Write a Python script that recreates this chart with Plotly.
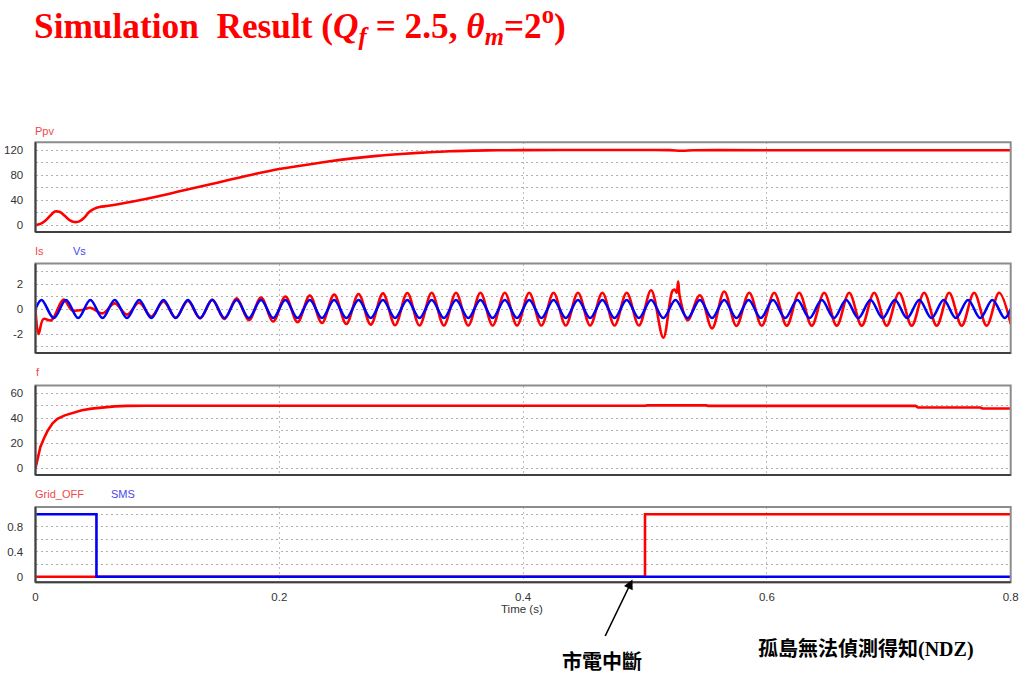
import plotly.graph_objects as go

# ---------------- data ----------------
ppv_t = [0, 0.004, 0.008, 0.012, 0.016, 0.02, 0.024, 0.028, 0.032, 0.036, 0.04, 0.044, 0.048, 0.0525,
         0.06, 0.08, 0.1, 0.12, 0.14, 0.16, 0.18, 0.2, 0.22, 0.24, 0.26, 0.28, 0.3, 0.32, 0.34, 0.36,
         0.38, 0.4, 0.45, 0.5, 0.52, 0.53, 0.54, 0.56, 0.6, 0.7, 0.8]
ppv_v = [0, 2, 7, 15, 22, 21, 15, 8, 5, 6, 12, 21, 26, 29,
         31, 38, 46, 55, 64, 73, 82, 90, 96, 102, 107, 111, 114, 116.5, 118.5, 119.5,
         120, 120.3, 120.5, 120.5, 120.3, 119.3, 120, 120.3, 120, 120, 120]

is_t = [0, 0.0025, 0.0065, 0.013, 0.023, 0.03, 0.038, 0.045, 0.055, 0.065, 0.075, 0.085, 0.095,
        0.105, 0.115, 0.125, 0.135, 0.145, 0.155, 0.165, 0.175, 0.185, 0.195, 0.205, 0.215,
        0.225, 0.235, 0.245, 0.255, 0.265, 0.275, 0.285, 0.295, 0.305, 0.315, 0.325, 0.335,
        0.345, 0.355, 0.365, 0.375, 0.385, 0.395, 0.405, 0.415, 0.425, 0.435, 0.445, 0.455,
        0.465, 0.475, 0.485, 0.495, 0.505, 0.515, 0.5225, 0.5245, 0.526, 0.5272, 0.5285,
        0.535, 0.545, 0.555, 0.565, 0.575, 0.5855, 0.5958, 0.606, 0.6163, 0.6265, 0.6368,
        0.647, 0.6573, 0.6675, 0.6778, 0.688, 0.6983, 0.7085, 0.7188, 0.729, 0.7393, 0.7495,
        0.7598, 0.77, 0.7803, 0.7905, 0.8]
is_v = [0, -2.0, -0.8, -0.9, 0.75, -0.1, -0.08, 0.1, -0.35, 0.45, -0.45, 0.5, -0.6,
        0.6, -0.7, 0.65, -0.75, 0.75, -0.8, 0.85, -0.9, 0.92, -1.0, 1.0, -1.05,
        1.08, -1.12, 1.15, -1.2, 1.2, -1.25, 1.25, -1.3, 1.28, -1.32, 1.3, -1.32,
        1.3, -1.32, 1.3, -1.32, 1.3, -1.32, 1.3, -1.32, 1.3, -1.32, 1.3, -1.32,
        1.3, -1.32, 1.3, -1.32, 1.5, -2.3, 1.45, 1.55, 1.3, 2.2, 1.0,
        -0.9, 1.1, -1.55, 1.4, -1.35, 1.3, -1.33, 1.3, -1.33, 1.3, -1.33,
        1.3, -1.33, 1.3, -1.33, 1.3, -1.33, 1.3, -1.33, 1.3, -1.33, 1.3,
        -1.33, 1.3, -1.33, 1.3, -1.2]

vs_t = [0, 0.005, 0.015, 0.025, 0.035, 0.045, 0.055, 0.065, 0.075, 0.085, 0.095,
        0.105, 0.115, 0.125, 0.135, 0.145, 0.155, 0.165, 0.175, 0.185, 0.195,
        0.205, 0.215, 0.225, 0.235, 0.245, 0.255, 0.265, 0.275, 0.285, 0.295,
        0.305, 0.315, 0.325, 0.335, 0.345, 0.355, 0.365, 0.375, 0.385, 0.395,
        0.405, 0.415, 0.425, 0.435, 0.445, 0.455, 0.465, 0.475, 0.485, 0.495,
        0.505, 0.515, 0.525, 0.535, 0.545, 0.555, 0.565, 0.575, 0.585, 0.595,
        0.605, 0.615, 0.625, 0.635, 0.645, 0.655, 0.665, 0.675, 0.685, 0.695,
        0.705, 0.715, 0.725, 0.735, 0.745, 0.755, 0.765, 0.775, 0.785, 0.795, 0.8]
vs_v = [0, 0.72, -0.72, 0.72, -0.72, 0.72, -0.72, 0.72, -0.72, 0.72, -0.72,
        0.72, -0.72, 0.72, -0.72, 0.72, -0.72, 0.72, -0.72, 0.72, -0.72,
        0.72, -0.72, 0.72, -0.72, 0.72, -0.72, 0.72, -0.72, 0.72, -0.72,
        0.72, -0.72, 0.72, -0.72, 0.72, -0.72, 0.72, -0.72, 0.72, -0.72,
        0.72, -0.72, 0.72, -0.72, 0.72, -0.72, 0.72, -0.72, 0.72, -0.72,
        0.72, -0.72, 0.72, -0.72, 0.72, -0.72, 0.72, -0.72, 0.72, -0.72,
        0.72, -0.72, 0.72, -0.72, 0.72, -0.72, 0.72, -0.72, 0.72, -0.72,
        0.72, -0.72, 0.72, -0.72, 0.72, -0.72, 0.72, -0.72, 0.72, -0.72, 0]

f_t = [0, 0.002, 0.004, 0.007, 0.01, 0.014, 0.018, 0.024, 0.03, 0.038, 0.046, 0.055, 0.065,
       0.075, 0.09, 0.5, 0.502, 0.55, 0.552, 0.722, 0.724, 0.775, 0.777, 0.8]
f_v = [0, 9, 17, 24, 30, 36, 39.5, 42.3, 44.3, 46.4, 47.7, 48.7, 49.5,
       49.9, 50, 50, 50.3, 50.3, 49.9, 49.9, 48.6, 48.6, 47.8, 47.8]

grid_t = [0, 0.5, 0.5, 0.8]
grid_v = [0, 0, 1, 1]
sms_t = [0, 0.05, 0.05, 0.8]
sms_v = [1, 1, 0, 0]

x_ticks = [0, 0.2, 0.4, 0.6, 0.8]
x_labels = ["0", "0.2", "0.4", "0.6", "0.8"]

p1_grid = [0, 20, 40, 60, 80, 100, 120]
p1_lab = ["0", "", "40", "", "80", "", "120"]
p2_grid = [-3, -2, -1, 0, 1, 2, 3]
p2_lab = ["", "-2", "", "0", "", "2", ""]
p3_grid = [0, 10, 20, 30, 40, 50, 60]
p3_lab = ["0", "", "20", "", "40", "", "60"]
p4_grid = [0, 0.2, 0.4, 0.6, 0.8, 1.0]
p4_lab = ["0", "", "0.4", "", "0.8", ""]

# ---------------- layout helpers ----------------
W, H = 1024, 675
def px(x):
    return x / W
def py(y):
    return 1 - y / H

RED = "#ff0000"
BLUE = "#0000f5"
LRED = "#f04848"
LBLUE = "#4848f0"

fig = go.Figure()

panels = [
    # (yaxis id, top px, bottom px, range, grid, labels)
    ("y", 142.3, 232, [-11.0, 132.8], p1_grid, p1_lab),
    ("y2", 263.5, 353, [-3.52, 3.64], p2_grid, p2_lab),
    ("y3", 385.5, 475, [-5.4, 66.2], p3_grid, p3_lab),
    ("y4", 507, 582.3, [-0.09, 1.115], p4_grid, p4_lab),
]

def add(t, v, yid, color, shape="linear", width=2.6):
    xid = "x" if yid == "y" else "x" + yid[1:]
    fig.add_trace(go.Scatter(x=t, y=v, mode="lines", xaxis=xid, yaxis=yid,
                             line=dict(color=color, width=width, shape=shape,
                                       smoothing=1.0 if shape == "spline" else None),
                             showlegend=False, hoverinfo="skip"))

add(ppv_t, ppv_v, "y", RED, "spline")
add(is_t, is_v, "y2", RED, "spline")
add(vs_t, vs_v, "y2", BLUE, "spline")
add(f_t, f_v, "y3", RED, "linear")
add(grid_t, grid_v, "y4", RED, "linear")
add(sms_t, sms_v, "y4", BLUE, "linear")

layout = dict(width=W, height=H, margin=dict(l=0, r=0, t=0, b=0, autoexpand=False),
              paper_bgcolor="white", plot_bgcolor="white", showlegend=False)

shapes = []
for i, (yid, top, bot, rng, grid, labs) in enumerate(panels):
    suffix = "" if i == 0 else str(i + 1)
    xname = "xaxis" + suffix
    yname = "yaxis" + suffix
    last = (i == 3)
    layout[xname] = dict(domain=[px(35.5), px(1010.7)], range=[0, 0.8], anchor="y" + suffix,
                         automargin=False,
                         tickvals=x_ticks, ticktext=x_labels if last else [""] * 5,
                         showticklabels=last, showgrid=True, gridcolor="#bdbdbd",
                         griddash="2px,3px", gridwidth=1, zeroline=False, showline=False,
                         ticks="outside" if last else "", ticklen=4, tickcolor="rgba(0,0,0,0)",
                         tickfont=dict(family="Arial", size=11.5, color="#333333"))
    if i > 0:
        layout[xname]["matches"] = "x"
    layout[yname] = dict(domain=[py(bot), py(top)], range=rng, anchor="x" + suffix,
                         automargin=False,
                         tickvals=grid, ticktext=labs, showgrid=True, gridcolor="#b0b0b0",
                         griddash="2px,3px", gridwidth=1, zeroline=False, showline=False,
                         ticks="outside", ticklen=9, tickcolor="rgba(0,0,0,0)",
                         tickfont=dict(family="Arial", size=11.5, color="#333333"))
    xd = "x" + suffix + " domain"
    yd = "y" + suffix + " domain"
    shapes.append(dict(type="rect", xref=xd, yref=yd, x0=0, x1=1, y0=0, y1=1,
                       line=dict(color="#8c8c8c", width=2), layer="above"))
    shapes.append(dict(type="line", xref=xd, yref=yd, x0=0, x1=0, y0=0, y1=1,
                       line=dict(color="#404040", width=2), layer="above"))
    shapes.append(dict(type="line", xref=xd, yref=yd, x0=0, x1=1, y0=0, y1=0,
                       line=dict(color="#404040", width=2), layer="above"))

layout["shapes"] = shapes

annotations = []
def label(text, x, y, color, size=11, family="Arial", xanchor="left"):
    annotations.append(dict(text=text, x=px(x), y=py(y), xref="paper", yref="paper",
                            xanchor=xanchor, yanchor="middle", showarrow=False,
                            font=dict(family=family, size=size, color=color)))

label("Ppv", 33, 131, LRED)
label("Is", 33, 251, LRED)
label("Vs", 71, 251, LBLUE)
label("f", 34, 372, LRED)
label("Grid_OFF", 33, 494, LRED)
label("SMS", 109, 494, LBLUE)
label("Time (s)", 522, 609, "#333333", size=11.5, xanchor="center")

# title
annotations.append(dict(
    text="<b>Simulation\u00a0 Result (<i>Q<sub>f</sub></i> = 2.5, <i>\u03b8<sub>m</sub></i>=2<sup>o</sup>)</b>",
    x=px(32), y=py(26), xref="paper", yref="paper", xanchor="left", yanchor="middle",
    showarrow=False, font=dict(family="Liberation Serif", size=35.3, color="#ff0000")))

# bottom notes
annotations.append(dict(text="<b>市電中斷</b>", x=px(602), y=py(660.5), xref="paper", yref="paper",
                        xanchor="center", yanchor="middle", showarrow=False,
                        font=dict(family="Noto Sans CJK TC", size=20, color="#000000")))
annotations.append(dict(text="<b>孤島無法偵測得知<span style='font-family:Liberation Serif'>(NDZ)</span></b>",
                        x=px(866), y=py(647), xref="paper", yref="paper",
                        xanchor="center", yanchor="middle", showarrow=False,
                        font=dict(family="Noto Sans CJK TC", size=20, color="#000000")))
# arrow
annotations.append(dict(text="", x=px(632.5), y=py(579.5), xref="paper", yref="paper",
                        ax=-28, ay=58, showarrow=True, arrowhead=2, arrowsize=1.2,
                        arrowwidth=1.6, arrowcolor="#000000"))

layout["annotations"] = annotations
fig.update_layout(**layout)

fig.write_html("out.html", config={"displayModeBar": False},
               post_script="document.body.style.margin='0px';document.body.style.overflow='hidden';")
